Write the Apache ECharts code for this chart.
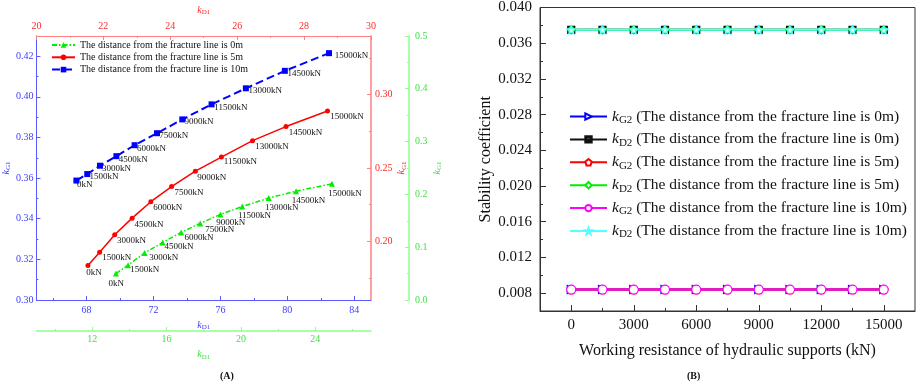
<!DOCTYPE html>
<html>
<head>
<meta charset="utf-8">
<script src="https://cdn.jsdelivr.net/npm/echarts@6/dist/echarts.min.js"></script>
<style>
  html, body { margin: 0; padding: 0; background: #fff; }
  #chart { width: 920px; height: 383px; }
</style>
</head>
<body>
<div id="chart"></div>
<script>
const SERIF = "'Times New Roman', 'Liberation Serif', serif";

// ---- Panel A: kD1 vs kG1 for each support load ----
const loadLabels = ["0kN", "1500kN", "3000kN", "4500kN", "6000kN", "7500kN", "9000kN", "11500kN", "13000kN", "14500kN", "15000kN"];

const kD1At0m = [13.28, 13.93, 14.82, 15.79, 16.79, 17.81, 18.90, 20.07, 21.50, 22.97, 24.90];
const kG1At0m = [0.050, 0.066, 0.089, 0.109, 0.128, 0.145, 0.162, 0.177, 0.193, 0.206, 0.220];
const kD1At5m = [21.54, 21.89, 22.34, 22.86, 23.42, 24.04, 24.75, 25.53, 26.46, 27.46, 28.70];
const kG1At5m = [0.1835, 0.1926, 0.2045, 0.2158, 0.2270, 0.2373, 0.2478, 0.2574, 0.2686, 0.2782, 0.2888];
const kD1At10m = [67.39, 68.04, 68.80, 69.78, 70.87, 72.21, 73.72, 75.47, 77.52, 79.85, 82.49];
const kG1At10m = [0.3588, 0.3620, 0.3661, 0.3708, 0.3762, 0.3821, 0.3889, 0.3963, 0.4042, 0.4128, 0.4215];

const seriesNamesA = [
  "The distance from the fracture line is 0m",
  "The distance from the fracture line is 5m",
  "The distance from the fracture line is 10m",
];

// tick values of panel A axes
const blueXTicks = [68, 72, 76, 80, 84];
const blueXMinor = [66, 70, 74, 78, 82];
const blueYTicks = [0.30, 0.32, 0.34, 0.36, 0.38, 0.40, 0.42];
const blueYMinor = [0.31, 0.33, 0.35, 0.37, 0.39, 0.41];
const redXTicks = [20, 22, 24, 26, 28, 30];
const redXMinor = [21, 23, 25, 27, 29];
const redYTicks = [0.20, 0.25, 0.30];
const redYMinor = [0.175, 0.225, 0.275, 0.325];
const greenXTicks = [12, 16, 20, 24];
const greenXMinor = [10, 14, 18, 22, 26];
const greenYTicks = [0.0, 0.1, 0.2, 0.3, 0.4, 0.5];
const greenYMinor = [0.05, 0.15, 0.25, 0.35, 0.45];

// ---- Panel B: stability coefficient vs working resistance ----
const workingResistance = [0, 1500, 3000, 4500, 6000, 7500, 9000, 10500, 12000, 13500, 15000];
const kG2At0m = [0.0084, 0.0084, 0.0084, 0.0084, 0.0084, 0.0084, 0.0084, 0.0084, 0.0084, 0.0084, 0.0084];
const kD2At0m = [0.0375, 0.0375, 0.0375, 0.0375, 0.0375, 0.0375, 0.0375, 0.0375, 0.0375, 0.0375, 0.0375];
const kG2At5m = [0.0084, 0.0084, 0.0084, 0.0084, 0.0084, 0.0084, 0.0084, 0.0084, 0.0084, 0.0084, 0.0084];
const kD2At5m = [0.0375, 0.0375, 0.0375, 0.0375, 0.0375, 0.0375, 0.0375, 0.0375, 0.0375, 0.0375, 0.0375];
const kG2At10m = [0.0084, 0.0084, 0.0084, 0.0084, 0.0084, 0.0084, 0.0084, 0.0084, 0.0084, 0.0084, 0.0084];
const kD2At10m = [0.0375, 0.0375, 0.0375, 0.0375, 0.0375, 0.0375, 0.0375, 0.0375, 0.0375, 0.0375, 0.0375];

const seriesNamesB = [
  "kG2 (The distance from the fracture line is 0m)",
  "kD2 (The distance from the fracture line is 0m)",
  "kG2 (The distance from the fracture line is 5m)",
  "kD2 (The distance from the fracture line is 5m)",
  "kG2 (The distance from the fracture line is 10m)",
  "kD2 (The distance from the fracture line is 10m)",
];

const bXTicks = [0, 3000, 6000, 9000, 12000, 15000];
const bXMinor = [1500, 4500, 7500, 10500, 13500];
const bYTicks = [0.008, 0.012, 0.016, 0.020, 0.024, 0.028, 0.032, 0.036, 0.040];
const bYMinor = [0.006, 0.010, 0.014, 0.018, 0.022, 0.026, 0.030, 0.034, 0.038];

// ---- colours ----
const BLUE = "#0000ff", BLUE_AX = "#5a5aff", BLUE_TX = "#3c3cff";
const RED = "#ff0000", RED_AX = "#ff8080", RED_TX = "#ff2a2a";
const GREEN = "#00ee00", GREEN_AX = "#8cff8c", GREEN_TX = "#44e044";

function subName(main, sub, color, size) {
  return {
    text: `{k|${main}}{s|${sub}}`,
    style: {
      color,
      fontFamily: SERIF,
      rich: {
        k: { fontStyle: "italic", fontSize: size, color, fontFamily: SERIF, lineHeight: size + 2 },
        s: { fontSize: Math.round(size * 0.7), color, fontFamily: SERIF, lineHeight: size * 0.5, verticalAlign: "bottom" },
      },
    },
  };
}

function mainAxis(c) {
  const ax = {
    type: "value",
    gridIndex: c.grid,
    position: c.position,
    offset: c.offset || 0,
    min: c.min,
    max: c.max,
    axisLine: { show: true, onZero: false, lineStyle: { color: c.lineColor, width: c.lineWidth || 1 } },
    axisTick: { show: true, inside: true, length: c.tickLen, customValues: c.ticks, lineStyle: { color: c.lineColor } },
    axisLabel: {
      show: true,
      customValues: c.ticks,
      margin: c.margin,
      color: c.labelColor,
      fontFamily: SERIF,
      fontSize: c.fontSize,
      formatter: c.fmt,
    },
    splitLine: { show: false },
  };
  if (c.name) {
    ax.name = c.name.text;
    ax.nameLocation = "middle";
    ax.nameGap = c.nameGap;
    if (c.nameRotate !== undefined) ax.nameRotate = c.nameRotate;
    ax.nameTextStyle = c.name.style;
  }
  return ax;
}

// same axis again, only to carry the short minor ticks
function minorAxis(c, minors) {
  return {
    type: "value",
    gridIndex: c.grid,
    position: c.position,
    offset: c.offset || 0,
    min: c.min,
    max: c.max,
    axisLine: { show: false, onZero: false },
    axisTick: { show: true, inside: true, length: c.minorLen, customValues: minors, lineStyle: { color: c.lineColor } },
    axisLabel: { show: false },
    splitLine: { show: false },
  };
}

const blueX = { grid: 0, position: "bottom", min: 65, max: 85, ticks: blueXTicks, tickLen: 4, minorLen: 2,
  lineColor: BLUE_AX, labelColor: BLUE_TX, fontSize: 10, margin: 5, fmt: (v) => String(v),
  name: subName("k", "D1", BLUE_TX, 10), nameGap: 13 };
const redX = { grid: 0, position: "top", min: 20, max: 30, ticks: redXTicks, tickLen: 4, minorLen: 2,
  lineColor: RED_AX, labelColor: RED_TX, fontSize: 10, margin: 5, fmt: (v) => String(v),
  name: subName("k", "D1", RED_TX, 10), nameGap: 14 };
const greenX = { grid: 0, position: "bottom", offset: 31, min: 9, max: 27, ticks: greenXTicks, tickLen: 4, minorLen: 2,
  lineColor: GREEN_AX, labelColor: GREEN_TX, fontSize: 10, margin: 3.5, fmt: (v) => String(v), lineWidth: 1.5,
  name: subName("k", "D1", GREEN_TX, 10), nameGap: 12 };
const bX = { grid: 1, position: "bottom", min: -1500, max: 16500, ticks: bXTicks, tickLen: 6, minorLen: 3,
  lineColor: "#333", labelColor: "#111", fontSize: 15, margin: 7, fmt: (v) => String(v),
  name: { text: "Working resistance of hydraulic supports (kN)", style: { color: "#111", fontFamily: SERIF, fontSize: 16 } },
  nameGap: 32 };

const blueY = { grid: 0, position: "left", min: 0.30, max: 0.43, ticks: blueYTicks, tickLen: 4, minorLen: 2,
  lineColor: BLUE_AX, labelColor: BLUE_TX, fontSize: 10, margin: 3, fmt: (v) => v.toFixed(2),
  name: subName("k", "G1", BLUE_TX, 10), nameGap: 23, nameRotate: 90 };
const redY = { grid: 0, position: "right", min: 0.16, max: 0.34, ticks: redYTicks, tickLen: 4, minorLen: 2,
  lineColor: RED_AX, labelColor: RED_TX, fontSize: 10, margin: 4, fmt: (v) => v.toFixed(2), lineWidth: 1.5,
  name: subName("k", "G1", RED_TX, 10), nameGap: 15, nameRotate: 90 };
const greenY = { grid: 0, position: "right", offset: 38, min: 0, max: 0.5, ticks: greenYTicks, tickLen: 4, minorLen: 2,
  lineColor: GREEN_AX, labelColor: GREEN_TX, fontSize: 10, margin: 6, fmt: (v) => v.toFixed(1), lineWidth: 1.5,
  name: subName("k", "G1", GREEN_TX, 10), nameGap: 22, nameRotate: 90 };
const bY = { grid: 1, position: "left", min: 0.006, max: 0.040, ticks: bYTicks, tickLen: 6, minorLen: 3,
  lineColor: "#333", labelColor: "#111", fontSize: 15, margin: 8, fmt: (v) => v.toFixed(3),
  name: { text: "Stability coefficient", style: { color: "#111", fontFamily: SERIF, fontSize: 16 } },
  nameGap: 46, nameRotate: 90 };

// label nudges (px) for the load annotations, one per point
const blueShift = [[-2.3, 4.3], [-0.7, 2.7], [-1, 2.6], [-0.7, 3], [-0.6, 3], [-0.7, 2.7], [-0.7, 2.6], [-0.3, 3], [-0.4, 2.4], [-0.4, 2.4], [2.7, 2]];
const redShift = [[-4.2, 7.4], [0.2, 5.7], [-0.1, 6], [-0.2, 6.3], [-0.2, 6], [0.3, 5.7], [-0.5, 6.4], [-0.1, 5], [0.2, 5.6], [0.2, 6], [0.2, 5.3]];
const greenShift = [[-10.4, 10.4], [-0.7, 5], [1.7, 4.3], [-1, 4], [0.3, 5.4], [2, 6.7], [-7.3, 8], [-7.3, 9], [-6.7, 9.3], [-7.3, 9], [-6.7, 9.5]];

function pointsA(xs, ys, shift) {
  return xs.map((x, i) => ({
    value: [x, ys[i]],
    label: { offset: shift[i] },
  }));
}

const loadLabel = {
  show: true,
  position: "right",
  distance: 0,
  color: "#111",
  fontFamily: SERIF,
  fontSize: 9,
  formatter: (p) => loadLabels[p.dataIndex],
};

function pairs(xs, ys) {
  return xs.map((x, i) => [x, ys[i]]);
}

const PENTAGON = "path://M0,-10 L9.51,-3.09 L5.88,8.09 L-5.88,8.09 L-9.51,-3.09 Z";
const STAR = "path://M0,-10 L2.35,-3.24 L9.51,-3.09 L3.8,1.24 L5.88,8.09 L0,4 L-5.88,8.09 L-3.8,1.24 L-9.51,-3.09 L-2.35,-3.24 Z";
const HALF_SQUARE = "path://M0,0 H10 V10 H0 Z M1.4,1.4 V5 H8.6 V1.4 Z";

function lineB(name, ys, color, symbol, size, fill, rotate) {
  return {
    name,
    type: "line",
    xAxisIndex: 3,
    yAxisIndex: 3,
    data: pairs(workingResistance, ys),
    symbol,
    symbolSize: size,
    symbolRotate: rotate || 0,
    showAllSymbol: true,
    lineStyle: { color, width: 2 },
    itemStyle: { color: fill, borderColor: color, borderWidth: 1.2 },
  };
}

function legendRich(size) {
  return {
    k: { fontStyle: "italic", fontSize: size, fontFamily: SERIF, color: "#111", lineHeight: size + 2.5 },
    s: { fontSize: Math.round(size * 0.7), fontFamily: SERIF, color: "#111", lineHeight: size * 0.5, verticalAlign: "bottom" },
    t: { fontSize: size, fontFamily: SERIF, color: "#111", lineHeight: size + 2.5 },
  };
}

const chart = echarts.init(document.getElementById("chart"), null, { renderer: "canvas" });

const option = {
  animation: false,
  backgroundColor: "#fff",
  textStyle: { fontFamily: SERIF },
  grid: [
    { left: 36, top: 26, width: 335, height: 274, containLabel: false },
    { left: 540, top: 7.3, width: 375, height: 303.7, containLabel: false, show: true, borderColor: "#333", borderWidth: 1, backgroundColor: "transparent" },
  ],
  xAxis: [
    mainAxis(blueX), mainAxis(redX), mainAxis(greenX), mainAxis(bX),
    minorAxis(blueX, blueXMinor), minorAxis(redX, redXMinor), minorAxis(greenX, greenXMinor), minorAxis(bX, bXMinor),
  ],
  yAxis: [
    mainAxis(blueY), mainAxis(redY), mainAxis(greenY), mainAxis(bY),
    minorAxis(blueY, blueYMinor), minorAxis(redY, redYMinor), minorAxis(greenY, greenYMinor), minorAxis(bY, bYMinor),
  ],
  legend: [
    {
      data: seriesNamesA,
      orient: "vertical",
      left: 51,
      top: 40,
      padding: 0,
      itemWidth: 23,
      itemHeight: 7,
      itemGap: 2.3,
      textStyle: { fontFamily: SERIF, fontSize: 10, color: "#111", lineHeight: 10 },
    },
    {
      data: seriesNamesB,
      orient: "vertical",
      left: 569,
      top: 108.5,
      padding: 0,
      itemWidth: 37,
      itemHeight: 8,
      itemGap: 5.9,
      formatter: (name) => `{k|${name[0]}}{s|${name.slice(1, 3)}}{t|${name.slice(3)}}`,
      textStyle: { fontFamily: SERIF, fontSize: 15.5, color: "#111", rich: legendRich(15.5) },
    },
  ],
  series: [
    {
      name: seriesNamesA[0],
      type: "line",
      xAxisIndex: 2,
      yAxisIndex: 2,
      data: pointsA(kD1At0m, kG1At0m, greenShift),
      symbol: "triangle",
      symbolSize: 6,
      lineStyle: { color: GREEN, width: 1.5, type: [5, 2, 1.5, 2] },
      itemStyle: { color: GREEN },
      label: loadLabel,
      z: 3,
    },
    {
      name: seriesNamesA[1],
      type: "line",
      xAxisIndex: 1,
      yAxisIndex: 1,
      data: pointsA(kD1At5m, kG1At5m, redShift),
      symbol: "circle",
      symbolSize: 5,
      lineStyle: { color: RED, width: 1.5 },
      itemStyle: { color: RED },
      label: loadLabel,
      z: 3,
    },
    {
      name: seriesNamesA[2],
      type: "line",
      xAxisIndex: 0,
      yAxisIndex: 0,
      data: pointsA(kD1At10m, kG1At10m, blueShift),
      symbol: "rect",
      symbolSize: 6,
      lineStyle: { color: BLUE, width: 2, type: [8, 4] },
      itemStyle: { color: BLUE },
      label: loadLabel,
      z: 3,
    },
    lineB(seriesNamesB[0], kG2At0m, "#0000ff", "triangle", 8, "#fff", -90),
    lineB(seriesNamesB[1], kD2At0m, "#111111", HALF_SQUARE, 7, "#111"),
    lineB(seriesNamesB[2], kG2At5m, "#ff0000", PENTAGON, 8, "#fff"),
    lineB(seriesNamesB[3], kD2At5m, "#00ee00", "diamond", 8, "#fff"),
    lineB(seriesNamesB[4], kG2At10m, "#ff00ff", "circle", 9, "#fff"),
    lineB(seriesNamesB[5], kD2At10m, "#55ffff", STAR, 8, "#fff"),
  ],
  graphic: [
    { type: "text", left: 220, top: 371, style: { text: "(A)", font: "bold 10px " + SERIF, fill: "#111" } },
    { type: "text", left: 687, top: 371, style: { text: "(B)", font: "bold 10px " + SERIF, fill: "#111" } },
  ],
};

chart.setOption(option);
window.addEventListener("resize", () => chart.resize());
</script>
</body>
</html>
